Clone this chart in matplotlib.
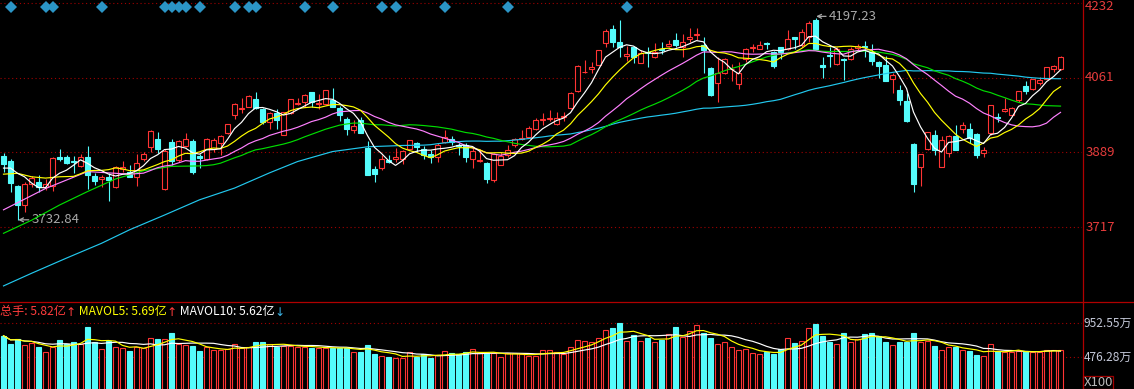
import numpy as np
import pandas as pd
import matplotlib
matplotlib.use('Agg')
import matplotlib.pyplot as plt
import matplotlib.transforms as mtransforms
from matplotlib.lines import Line2D
from matplotlib.patches import Rectangle

# daily candles (152 sessions)
opens = [
    3881, 3870, 3812, 3768, 3816, 3820, 3810, 3812, 3878, 3878,
    3869, 3858, 3878, 3835, 3827, 3832, 3809, 3852, 3845, 3833,
    3874, 3902, 3919, 3804, 3914, 3872, 3904, 3915, 3881, 3874,
    3898, 3910, 3933, 3974, 3989, 3994, 4012, 3989, 3958, 3979,
    3928, 3979, 4000, 4006, 4027, 4000, 4000, 4010, 3992, 3965,
    3941, 3964, 3900, 3851, 3854, 3872, 3873, 3873, 3897, 3911,
    3896, 3885, 3878, 3914, 3919, 3906, 3906, 3873, 3869, 3865,
    3826, 3860, 3883, 3906, 3919, 3925, 3942, 3964, 3966, 3954,
    3970, 3992, 4030, 4073, 4082, 4090, 4140, 4173, 4142, 4111,
    4131, 4095, 4121, 4108, 4128, 4134, 4148, 4131, 4151, 4158,
    4137, 4084, 4048, 4071, 4080, 4046, 4105, 4129, 4128, 4141,
    4121, 4131, 4128, 4154, 4136, 4155, 4194, 4090, 4113, 4092,
    4103, 4104, 4130, 4134, 4121, 4098, 4090, 4057, 4033, 4007,
    3908, 3855, 3896, 3929, 3856, 3888, 3927, 3944, 3944, 3931,
    3888, 3934, 3971, 3985, 3975, 4010, 4042, 4034, 4048, 4058,
    4080, 4080]
highs = [
    3888, 3873, 3815, 3822, 3835, 3837, 3827, 3878, 3897, 3882,
    3881, 3885, 3904, 3841, 3837, 3841, 3858, 3869, 3860, 3885,
    3891, 3941, 3937, 3898, 3919, 3917, 3934, 3919, 3886, 3922,
    3922, 3929, 3955, 4003, 4015, 4020, 4028, 3991, 3983, 3988,
    3982, 4012, 4015, 4023, 4028, 4023, 4033, 4037, 3996, 3970,
    3963, 3970, 3916, 3858, 3883, 3883, 3900, 3895, 3918, 3914,
    3904, 3895, 3910, 3941, 3927, 3910, 3910, 3902, 3898, 3866,
    3887, 3891, 3906, 3922, 3941, 3950, 3968, 3980, 3987, 3983,
    3983, 4027, 4089, 4102, 4096, 4125, 4172, 4182, 4194, 4134,
    4132, 4125, 4131, 4140, 4144, 4148, 4163, 4161, 4175, 4175,
    4155, 4085, 4109, 4106, 4092, 4096, 4130, 4138, 4145, 4142,
    4122, 4132, 4171, 4155, 4172, 4192, 4197.23, 4109, 4132, 4132,
    4106, 4132, 4138, 4145, 4138, 4099, 4111, 4071, 4044, 4025,
    3910, 3886, 3936, 3941, 3927, 3928, 3952, 3960, 3956, 3933,
    3901, 3999, 3980, 4014, 3994, 4031, 4054, 4058, 4062, 4085,
    4090, 4111]
lows = [
    3845, 3799, 3732.84, 3753, 3809, 3799, 3803, 3801, 3870, 3862,
    3842, 3856, 3806, 3814, 3810, 3778, 3808, 3845, 3832, 3812,
    3869, 3891, 3887, 3803, 3860, 3866, 3901, 3839, 3853, 3872,
    3891, 3883, 3932, 3967, 3980, 3993, 3989, 3954, 3942, 3944,
    3928, 3978, 3998, 3994, 3994, 3990, 3998, 3993, 3961, 3929,
    3934, 3933, 3836, 3822, 3849, 3864, 3868, 3862, 3896, 3891,
    3873, 3864, 3868, 3910, 3906, 3883, 3868, 3854, 3868, 3819,
    3822, 3860, 3878, 3902, 3918, 3924, 3941, 3952, 3962, 3952,
    3962, 3990, 4029, 4071, 4071, 4089, 4132, 4131, 4109, 4100,
    4095, 4094, 4085, 4107, 4115, 4131, 4131, 4109, 4142, 4148,
    4071, 4019, 4006, 4069, 4053, 4035, 4098, 4121, 4127, 4127,
    4084, 4105, 4125, 4128, 4132, 4142, 4125, 4060, 4086, 4091,
    4056, 4102, 4125, 4109, 4090, 4060, 4053, 4026, 3998, 3960,
    3799, 3812, 3895, 3883, 3855, 3878, 3894, 3933, 3910, 3876,
    3879, 3929, 3960, 3983, 3974, 4006, 4023, 4033, 4044, 4057,
    4075, 4079]
closes = [
    3862, 3818, 3768, 3816, 3830, 3809, 3816, 3877, 3874, 3865,
    3866, 3878, 3836, 3824, 3832, 3826, 3856, 3855, 3833, 3864,
    3885, 3938, 3898, 3893, 3870, 3915, 3919, 3845, 3876, 3920,
    3918, 3927, 3954, 4000, 3992, 4019, 3992, 3959, 3979, 3964,
    3981, 4011, 4002, 4021, 4006, 4003, 4032, 3994, 3975, 3943,
    3950, 3934, 3837, 3839, 3873, 3868, 3879, 3892, 3917, 3902,
    3882, 3878, 3906, 3925, 3914, 3904, 3878, 3892, 3872, 3828,
    3885, 3881, 3895, 3919, 3922, 3945, 3964, 3967, 3968, 3968,
    3973, 4026, 4088, 4075, 4085, 4124, 4169, 4144, 4131, 4115,
    4109, 4118, 4118, 4121, 4125, 4138, 4136, 4142, 4154, 4161,
    4124, 4020, 4071, 4105, 4082, 4071, 4126, 4131, 4136, 4139,
    4088, 4121, 4150, 4151, 4167, 4186, 4128, 4086, 4111, 4128,
    4101, 4126, 4134, 4131, 4099, 4088, 4054, 4067, 4010, 3962,
    3816, 3885, 3935, 3895, 3918, 3927, 3895, 3952, 3922, 3883,
    3895, 3998, 3968, 3988, 3991, 4030, 4031, 4057, 4056, 4085,
    4088, 4108]
# volume, 亿
volumes = [
    7.78, 6.62, 7.28, 6.48, 6.80, 6.16, 5.46, 6.16, 7.18, 6.62,
    6.94, 6.62, 9.00, 6.94, 5.92, 7.08, 6.16, 6.02, 5.64, 6.24,
    6.02, 7.42, 7.32, 7.32, 8.12, 6.58, 6.48, 6.34, 5.64, 6.16,
    5.78, 5.78, 5.92, 6.58, 6.02, 6.24, 6.86, 6.86, 6.58, 6.24,
    6.38, 6.38, 6.24, 6.24, 6.10, 6.02, 6.02, 6.10, 6.10, 6.10,
    5.46, 5.54, 6.48, 5.22, 4.94, 4.84, 4.70, 4.70, 5.46, 4.80,
    5.22, 4.70, 5.08, 5.64, 5.32, 5.18, 5.46, 5.92, 5.32, 5.32,
    5.32, 4.80, 5.32, 5.32, 5.22, 4.94, 4.94, 5.78, 5.78, 5.46,
    5.22, 6.16, 7.18, 7.04, 6.86, 7.42, 8.58, 8.90, 9.60, 7.04,
    7.88, 7.04, 7.50, 6.94, 7.18, 7.98, 9.04, 7.64, 8.44, 9.28,
    8.12, 7.50, 6.58, 6.86, 6.16, 5.78, 5.88, 5.40, 5.22, 5.46,
    5.22, 5.92, 7.42, 6.80, 7.04, 8.82, 9.42, 7.78, 6.94, 6.58,
    8.20, 6.86, 7.28, 8.02, 8.12, 7.78, 6.94, 6.48, 6.94, 6.86,
    8.20, 6.94, 7.04, 6.38, 5.78, 6.24, 6.24, 5.78, 5.64, 5.08,
    4.94, 6.62, 5.60, 5.45, 5.50, 5.65, 5.58, 5.51, 5.55, 5.80,
    5.75, 5.82]

ma5_head_idx, ma5_head = [0, 1, 2, 3], [3853, 3853, 3841, 3833]
ma10_head_idx, ma10_head = [0, 2, 4, 6, 8], [3839, 3841, 3833, 3830, 3833]
ma20_head_idx, ma20_head = [0, 6, 12, 18], [3757, 3806, 3845, 3839]
ma30_head_idx = [0, 4, 8, 12, 16, 20, 24, 28]
ma30_head = [3703, 3733, 3768, 3799, 3828, 3847, 3857, 3858]
ma60_head_idx = [0, 4, 9, 14, 18, 23, 28, 33, 38, 42, 47, 52, 57]
ma60_head = [3582, 3611, 3646, 3680, 3711, 3745, 3780, 3807, 3842, 3868, 3891, 3902, 3905]

signal_days = [1, 6, 7, 14, 23, 24, 25, 26, 28, 33, 35, 36, 43, 47, 54, 56, 63, 72, 89]
price_levels = [4232, 4061, 3889, 3717]
vol_levels = [9.5255, 4.7628]
vol_labels = ['952.55万', '476.28万']

RED = '#ff3434'
CYAN = '#54fcfc'
GRID = '#a00000'
FONT = ['Noto Sans CJK SC', 'DejaVu Sans']
plt.rcParams['font.family'] = FONT

W, H = 1134, 389
fig = plt.figure(figsize=(W / 100, H / 100), dpi=100, facecolor='black')
ax1 = fig.add_axes([0, 87 / H, 1082 / W, 302 / H])
ax2 = fig.add_axes([0, 0, 1082 / W, 87 / H])
for ax in (ax1, ax2):
    ax.set_facecolor('black')
    ax.set_axis_off()
    ax.set_xlim(-0.5, 154.07)
ax1.set_ylim(3545, 4239.6)
ax2.set_ylim(0.32, 12.5)

o = np.array(opens, float)
h = np.array(highs, float)
l = np.array(lows, float)
c = np.array(closes, float)
v = np.array(volumes)
x = np.arange(len(c))
up = c >= o

# price panel
for p in price_levels:
    ax1.axhline(p, color=GRID, lw=0.8, ls=(0, (1, 2.5)), zorder=1)
ax1.vlines(x, l, h, colors=np.where(up, RED, CYAN), lw=0.8, zorder=2)
ax1.bar(x[up], (c - o)[up], bottom=o[up], width=0.68, facecolor='black',
        edgecolor=RED, lw=0.8, zorder=3)
ax1.bar(x[~up], (o - c)[~up], bottom=c[~up], width=0.68, facecolor=CYAN,
        edgecolor=CYAN, lw=0.8, zorder=3)


def ma_line(vals, n, head_idx, head_vals):
    rolled = pd.Series(vals).rolling(n).mean().to_numpy()
    xs = np.r_[head_idx, np.arange(n - 1, len(vals))]
    ys = np.r_[head_vals, rolled[n - 1:]]
    return xs, ys


for n, hi, hv, col in [(60, ma60_head_idx, ma60_head, '#22c8ee'),
                       (30, ma30_head_idx, ma30_head, '#00dd00'),
                       (20, ma20_head_idx, ma20_head, '#ff80ff'),
                       (10, ma10_head_idx, ma10_head, '#ffff00'),
                       (5, ma5_head_idx, ma5_head, '#ffffff')]:
    xs, ys = ma_line(c, n, hi, hv)
    ax1.plot(xs, ys, color=col, lw=0.85, zorder=4)

ax1.plot(signal_days, [4223.5] * len(signal_days), 'D', color='#2b95c6',
         markersize=6.5, markeredgewidth=0, zorder=5, clip_on=False)

ax1.annotate('3732.84', xy=(2.1, 3734), xytext=(4.0, 3734), color='#a8a8a8',
             fontsize=9.5, va='center', ha='left',
             arrowprops=dict(arrowstyle='->', color='#a8a8a8', lw=0.9,
                             shrinkA=0, shrinkB=0, mutation_scale=7))
ax1.annotate('4197.23', xy=(116.1, 4202), xytext=(117.9, 4202), color='#a8a8a8',
             fontsize=9.5, va='center', ha='left',
             arrowprops=dict(arrowstyle='->', color='#a8a8a8', lw=0.9,
                             shrinkA=0, shrinkB=0, mutation_scale=7))

tr1 = mtransforms.blended_transform_factory(ax1.transAxes, ax1.transData)
for p in price_levels:
    # top label sits flush with the upper edge
    ax1.text(1.003, 4239 if p == price_levels[0] else p, str(p), transform=tr1,
             color='#e63c3c', fontsize=9.5, ha='left', clip_on=False,
             va='top' if p == price_levels[0] else 'center')

# volume panel
for lv in vol_levels:
    ax2.axhline(lv, color=GRID, lw=0.8, ls=(0, (1, 2.5)), zorder=1)
ax2.bar(x[up], v[up], width=0.68, facecolor='black', edgecolor=RED, lw=0.8, zorder=2)
ax2.bar(x[~up], v[~up], width=0.68, facecolor=CYAN, edgecolor=CYAN, lw=0.8, zorder=2)
mavol5 = pd.Series(v).rolling(5, min_periods=1).mean()
mavol10 = pd.Series(v).rolling(10, min_periods=1).mean()
ax2.plot(x, mavol10, color='white', lw=0.85, zorder=3)
ax2.plot(x, mavol5, color='#ffff00', lw=0.85, zorder=3)

tr2 = mtransforms.blended_transform_factory(ax2.transAxes, ax2.transData)
for lv, lab in zip(vol_levels, vol_labels):
    ax2.text(1.0015, lv, lab, transform=tr2, color='#c4c8d8', fontsize=8.6,
             va='center', ha='left', clip_on=False)

# frame lines
fig.add_artist(Line2D([1082.5 / W] * 2, [0, 1], color='#b00000', lw=0.9))
fig.add_artist(Line2D([0, 1], [1 - 302 / H] * 2, color='#b00000', lw=0.9))
fig.add_artist(Rectangle((1082.5 / W, 0.5 / H), 30 / W, 13 / H, fill=False,
                         edgecolor='#a00000', lw=0.9, transform=fig.transFigure))
fig.text(1084 / W, 6.5 / H, 'X100', color='#b8b8b8', fontsize=9.5, va='center', ha='left')

# volume legend line
renderer = fig.canvas.get_renderer()
xpos = 0
for s, col in [('总手: 5.82亿', '#ff3c3c'), ('↑', '#ff3c3c'),
               (' MAVOL5: 5.69亿', '#ffff00'), ('↑', '#ff3c3c'),
               (' MAVOL10: 5.62亿', '#ffffff'), ('↓', '#3cb4e6')]:
    t = fig.text(xpos / W, 1 - 312 / H, s, color=col, fontsize=8.7,
                 va='center', ha='left', family=['DejaVu Sans'] if s in '↑↓' else FONT)
    xpos += t.get_window_extent(renderer).width

fig.savefig('out.png', dpi=100, facecolor='black')
